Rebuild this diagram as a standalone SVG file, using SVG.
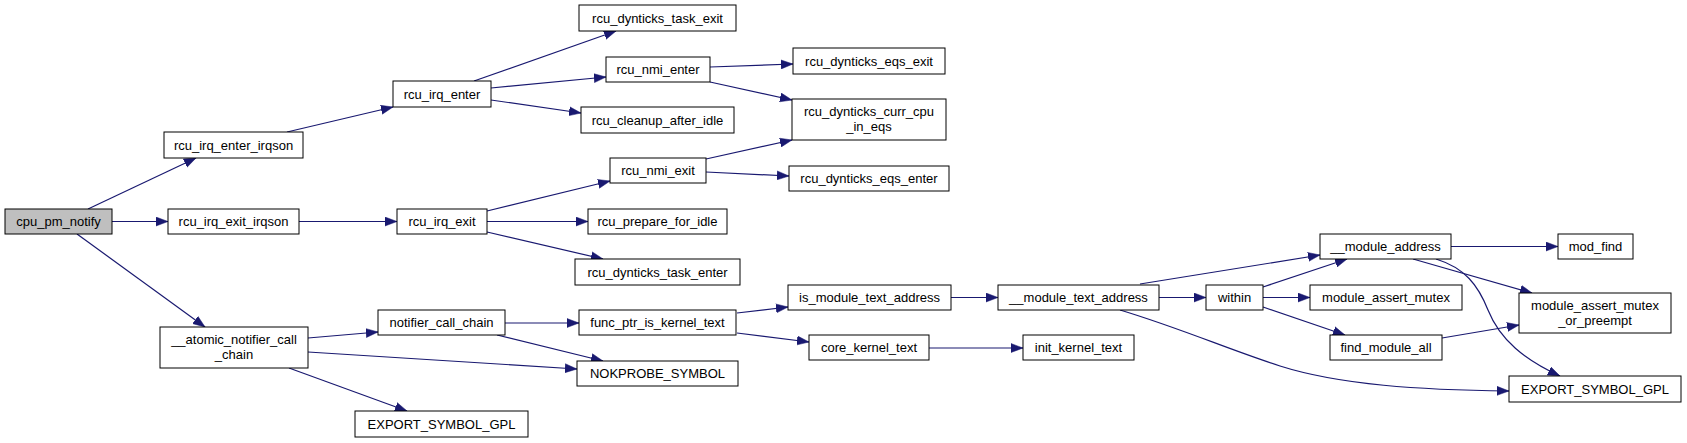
<svg xmlns="http://www.w3.org/2000/svg" width="1687" height="443" viewBox="0 0 1687 443">
<style>
.n rect{fill:#ffffff;stroke:#000000;stroke-width:1}
.n.root rect{fill:#bfbfbf}
.n text{font-family:"Liberation Sans",Arial,Helvetica,sans-serif;font-size:13px;fill:#000000;text-anchor:middle}
.e path{fill:none;stroke:#191970;stroke-width:1.2;marker-end:url(#arr)}
</style>
<defs>
<marker id="arr" markerUnits="userSpaceOnUse" markerWidth="13" markerHeight="10" refX="12" refY="5" orient="auto">
<path d="M0,0.5 L12,5 L0,9.5 z" fill="#191970" stroke="#191970" stroke-width="0.5"/>
</marker>
</defs>
<rect x="0" y="0" width="1687" height="443" fill="#ffffff"/>
<g id="edges" class="e">
<path d="M88,209 L196,158"/>
<path d="M112,221.5 L168,221.5"/>
<path d="M77,234 L205,327"/>
<path d="M287,132 L393,107"/>
<path d="M299,221.5 L397,221.5"/>
<path d="M474,81 L616,31"/>
<path d="M491,88 L606,77"/>
<path d="M491,100 L581,113"/>
<path d="M710,67 L793,64"/>
<path d="M710,82 L792,100"/>
<path d="M706,159 L792,140"/>
<path d="M706,172 L789,176"/>
<path d="M487,211 L610,181"/>
<path d="M487,221.5 L588,221.5"/>
<path d="M487,232 L603,259"/>
<path d="M308,338 L378,332"/>
<path d="M308,352 L577,369"/>
<path d="M289,368 L407,411"/>
<path d="M505,323 L579,323"/>
<path d="M497,335 L603,361"/>
<path d="M737,313 L788,307"/>
<path d="M737,333 L809,342"/>
<path d="M951,297.5 L998,297.5"/>
<path d="M929,348 L1023,348"/>
<path d="M1140,284 L1320,255"/>
<path d="M1159,297.5 L1206,297.5"/>
<path d="M1120,310 C1180,328 1230,350 1280,366 C1340,385 1420,390 1509,391"/>
<path d="M1263,287 L1347,259"/>
<path d="M1263,297.5 L1310,297.5"/>
<path d="M1263,307 L1345,335"/>
<path d="M1451,246.5 L1558,246.5"/>
<path d="M1413,259 L1532,293"/>
<path d="M1436,259 C1465,268 1478,285 1488,310 C1500,340 1525,360 1560,376"/>
<path d="M1442,338 L1519,325"/>
</g>
<g id="cpu_pm_notify" class="n root"><rect x="5" y="209" width="107" height="25"/><text x="58.5" y="226">cpu_pm_notify</text></g>
<g id="rcu_irq_enter_irqson" class="n"><rect x="164" y="132" width="139" height="26"/><text x="233.5" y="149.5">rcu_irq_enter_irqson</text></g>
<g id="rcu_irq_exit_irqson" class="n"><rect x="168" y="209" width="131" height="25"/><text x="233.5" y="226">rcu_irq_exit_irqson</text></g>
<g id="atomic_notifier_call_chain" class="n"><rect x="160" y="327" width="148" height="41"/><text x="234" y="344">__atomic_notifier_call</text><text x="234" y="359">_chain</text></g>
<g id="rcu_irq_enter" class="n"><rect x="393" y="81" width="98" height="26"/><text x="442" y="98.5">rcu_irq_enter</text></g>
<g id="rcu_irq_exit" class="n"><rect x="397" y="209" width="90" height="25"/><text x="442" y="226">rcu_irq_exit</text></g>
<g id="notifier_call_chain" class="n"><rect x="378" y="310" width="127" height="25"/><text x="441.5" y="327">notifier_call_chain</text></g>
<g id="export_symbol_gpl_1" class="n"><rect x="355" y="411" width="173" height="26"/><text x="441.5" y="428.5">EXPORT_SYMBOL_GPL</text></g>
<g id="rcu_dynticks_task_exit" class="n"><rect x="579" y="5" width="157" height="26"/><text x="657.5" y="22.5">rcu_dynticks_task_exit</text></g>
<g id="rcu_nmi_enter" class="n"><rect x="606" y="57" width="104" height="25"/><text x="658" y="74">rcu_nmi_enter</text></g>
<g id="rcu_cleanup_after_idle" class="n"><rect x="581" y="107" width="153" height="26"/><text x="657.5" y="124.5">rcu_cleanup_after_idle</text></g>
<g id="rcu_nmi_exit" class="n"><rect x="610" y="158" width="96" height="25"/><text x="658" y="175">rcu_nmi_exit</text></g>
<g id="rcu_prepare_for_idle" class="n"><rect x="588" y="209" width="139" height="25"/><text x="657.5" y="226">rcu_prepare_for_idle</text></g>
<g id="rcu_dynticks_task_enter" class="n"><rect x="575" y="259" width="165" height="26"/><text x="657.5" y="276.5">rcu_dynticks_task_enter</text></g>
<g id="func_ptr_is_kernel_text" class="n"><rect x="579" y="310" width="157" height="25"/><text x="657.5" y="327">func_ptr_is_kernel_text</text></g>
<g id="nokprobe_symbol" class="n"><rect x="577" y="361" width="161" height="25"/><text x="657.5" y="378">NOKPROBE_SYMBOL</text></g>
<g id="rcu_dynticks_eqs_exit" class="n"><rect x="793" y="48" width="152" height="26"/><text x="869" y="65.5">rcu_dynticks_eqs_exit</text></g>
<g id="rcu_dynticks_curr_cpu_in_eqs" class="n"><rect x="792" y="99" width="154" height="41"/><text x="869" y="116">rcu_dynticks_curr_cpu</text><text x="869" y="131">_in_eqs</text></g>
<g id="rcu_dynticks_eqs_enter" class="n"><rect x="789" y="166" width="160" height="25"/><text x="869" y="183">rcu_dynticks_eqs_enter</text></g>
<g id="is_module_text_address" class="n"><rect x="788" y="285" width="163" height="25"/><text x="869.5" y="302">is_module_text_address</text></g>
<g id="core_kernel_text" class="n"><rect x="809" y="335" width="120" height="25"/><text x="869" y="352">core_kernel_text</text></g>
<g id="module_text_address" class="n"><rect x="998" y="285" width="161" height="25"/><text x="1078.5" y="302">__module_text_address</text></g>
<g id="init_kernel_text" class="n"><rect x="1023" y="335" width="111" height="25"/><text x="1078.5" y="352">init_kernel_text</text></g>
<g id="within" class="n"><rect x="1206" y="285" width="57" height="25"/><text x="1234.5" y="302">within</text></g>
<g id="module_address" class="n"><rect x="1320" y="234" width="131" height="25"/><text x="1385.5" y="251">__module_address</text></g>
<g id="module_assert_mutex" class="n"><rect x="1310" y="285" width="152" height="25"/><text x="1386" y="302">module_assert_mutex</text></g>
<g id="find_module_all" class="n"><rect x="1330" y="335" width="112" height="25"/><text x="1386" y="352">find_module_all</text></g>
<g id="mod_find" class="n"><rect x="1558" y="234" width="75" height="25"/><text x="1595.5" y="251">mod_find</text></g>
<g id="module_assert_mutex_or_preempt" class="n"><rect x="1519" y="293" width="152" height="40"/><text x="1595" y="310">module_assert_mutex</text><text x="1595" y="325">_or_preempt</text></g>
<g id="export_symbol_gpl_2" class="n"><rect x="1509" y="376" width="172" height="26"/><text x="1595" y="393.5">EXPORT_SYMBOL_GPL</text></g>
</svg>
